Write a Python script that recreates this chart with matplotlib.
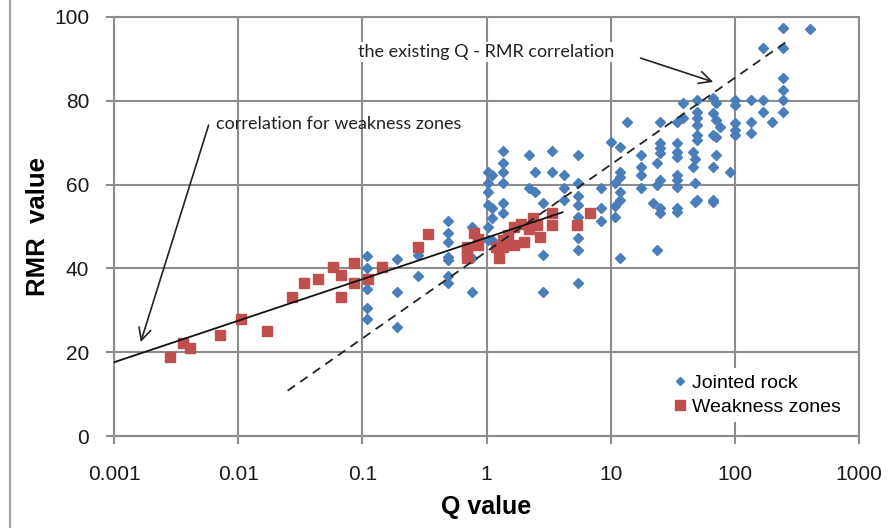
import matplotlib
matplotlib.use("Agg")
import matplotlib.pyplot as plt
from matplotlib.lines import Line2D

# Jointed rock (blue diamonds): Q value, RMR value
joint_q = [0.11, 0.11, 0.11, 0.11, 0.11, 0.11,
           0.19, 0.19, 0.19,
           0.28, 0.28,
           0.49, 0.49, 0.49, 0.49, 0.49, 0.49, 0.49,
           0.77, 0.77, 0.77,
           1.02, 1.02, 1.02, 1.02, 1.02, 1.02,
           1.1, 1.1, 1.1, 1.1,
           1.36, 1.36, 1.36, 1.36, 1.36, 1.36,
           2.18, 2.18, 2.48, 2.48,
           2.83, 2.83, 2.83,
           3.4, 3.4,
           4.17, 4.17, 4.17,
           5.46, 5.46, 5.46, 5.46, 5.46, 5.46, 5.46, 5.46,
           8.3, 8.3, 8.3,
           10.0,
           10.9, 10.9, 10.9,
           11.9, 11.9, 11.9, 11.9, 11.9, 11.9,
           13.6,
           17.4, 17.4, 17.4, 17.4,
           22.0,
           23.8, 23.8, 23.8,
           25.0, 25.0, 25.0, 25.0, 25.0, 25.0, 25.0,
           34.5, 34.5, 34.5, 34.5, 34.5, 34.5, 34.5, 34.5, 34.5,
           37.9, 37.9,
           46.4, 46.4,
           48.0, 48.0, 48.0,
           50.0, 50.0, 50.0, 50.0, 50.0, 50.0, 50.0,
           67.0, 67.0, 67.0, 67.0, 67.0, 67.0,
           71.0, 71.0, 71.0, 71.0,
           76.5,
           92.0,
           101.0, 101.0, 101.0, 101.0, 101.0,
           134.0, 134.0, 134.0,
           170.0, 170.0, 170.0,
           200.0,
           245.0, 245.0, 245.0, 245.0, 245.0, 245.0,
           406.0]
joint_rmr = [43, 40, 37, 35, 30.5, 28,
             42.3, 34.4, 26,
             43.2, 38.3,
             51.3, 48.4, 46.3, 42.7, 42, 38.3, 36.5,
             49.9, 42.5, 34.4,
             63, 60.4, 58.2, 55.1, 49.9, 46.8,
             62.3, 54.4, 52, 46.8,
             68, 65.2, 63, 60.4, 55.6, 53.3,
             67, 59.2, 63, 58.2,
             55.5, 43.2, 34.4,
             68, 63,
             62.3, 59.2, 56.3,
             67, 60.4, 57.3, 55.1, 52.3, 47.3, 44.4, 36.5,
             59.2, 54.4, 51.3,
             70.2,
             60.4, 55, 52.3,
             69, 63, 61.8, 58.2, 56.3, 42.5,
             75,
             67, 64.2, 62.3, 59.2,
             55.6,
             65.2, 60, 44.4,
             75, 70, 68.7, 67.5, 61, 54.4, 53.2,
             75, 70, 67.8, 66.6, 62.3, 61, 59.4, 54.4, 53.5,
             79.5, 75.9,
             67.8, 64.2,
             60.4, 55.8, 66,
             80.2, 77.3, 76, 74.2, 71.8, 70.6, 56.3,
             80.7, 77, 71.8, 64.2, 55.8, 56.3,
             79.5, 75.4, 71.4, 67,
             73.8,
             63,
             80.2, 79, 74.7, 73, 71.8,
             80.2, 75, 72.3,
             92.6, 80.2, 77.3,
             75,
             97.4, 92.6, 85.4, 82.6, 80.2, 77.3,
             97.1]

# Weakness zones (red squares)
weak_q = [0.0028, 0.0036, 0.0041, 0.0071, 0.0105, 0.017,
          0.027, 0.034, 0.044, 0.058, 0.067, 0.067, 0.085, 0.085,
          0.112, 0.145, 0.28, 0.335,
          0.70, 0.70, 0.70, 0.79, 0.85, 0.85,
          1.2, 1.25, 1.37, 1.37, 1.5, 1.65, 1.65, 1.9, 2.0, 2.2,
          2.39, 2.57, 2.72, 3.4, 3.4, 5.4, 6.8]
weak_rmr = [18.9, 22.2, 21, 24.1, 27.9, 25,
            33.2, 36.5, 37.5, 40.3, 38.4, 33.2, 41.3, 36.5,
            37.5, 40.3, 45.1, 48.2,
            43.7, 45.1, 42.5, 48.4, 45.6, 47,
            45, 42.5, 46.8, 45.1, 48, 49.9, 45.6, 50.5, 46.3, 49.5,
            52, 50.4, 47.5, 53.2, 50.4, 50.4, 53.2]

# correlation lines (end points)
weak_line_q = [0.001, 4.1]
weak_line_rmr = [17.6, 53.4]
exist_line_q = [0.025, 255]
exist_line_rmr = [10.8, 93.9]

x_ticks = [0.001, 0.01, 0.1, 1, 10, 100, 1000]
x_labels = ["0.001", "0.01", "0.1", "1", "10", "100", "1000"]
y_ticks = [0, 20, 40, 60, 80, 100]

grid_col = "#8c8c8c"
blue = "#4a7ebb"
red = "#c0504d"

plt.rcParams['font.family'] = ['Liberation Sans', 'DejaVu Sans']

fig = plt.figure(figsize=(8.88, 5.28), dpi=100)
ax = fig.add_axes([114 / 888, 1 - 436 / 528, 745 / 888, 419 / 528])

ax.plot(joint_q, joint_rmr, linestyle="none", marker="D", ms=5.4,
        color=blue, mec=blue, zorder=3)
ax.plot(weak_q, weak_rmr, linestyle="none", marker="s", ms=7.3,
        color=red, mec=red, zorder=4)

ax.plot(weak_line_q, weak_line_rmr, color="#111111", lw=1.3, zorder=5)
ax.plot(exist_line_q, exist_line_rmr, color="#222222", lw=1.3,
        linestyle=(0, (5, 3.5)), zorder=5)

ax.set_xscale("log")
ax.set_xlim(0.001, 1000)
ax.set_ylim(0, 100)
ax.set_xticks(x_ticks)
ax.set_xticklabels(x_labels)
ax.minorticks_off()
ax.set_yticks(y_ticks)

ax.grid(True, color=grid_col, lw=1.5, zorder=0)
ax.set_axisbelow(True)
for s in ax.spines.values():
    s.set_color(grid_col)
    s.set_linewidth(1.5)
ax.tick_params(axis="both", colors=grid_col, width=1.5, length=6,
               labelcolor="#1a1a1a", labelsize=15)
ax.tick_params(axis="y", pad=12)
ax.tick_params(axis="x", pad=15)

ax.set_xlabel("Q value", fontsize=18, fontweight="bold", labelpad=8)
ax.set_ylabel("RMR  value", fontsize=18.5, fontweight="bold", labelpad=3)

ann_font = dict(family=["Lato", "DejaVu Sans"], fontsize=13, color="#222222")
arrow = dict(arrowstyle="->", color="#222222", lw=1.2,
             shrinkA=0, shrinkB=0, mutation_scale=22)

ax.text(0.0066, 74.5, "correlation for weakness zones", va="center",
        ha="left", **ann_font)
ax.annotate("", xy=(0.00164, 22.4), xytext=(0.00578, 74.2), arrowprops=arrow)

ax.text(0.093, 91.6, "the existing Q - RMR correlation", va="center",
        ha="left", bbox=dict(boxstyle="square,pad=0.1", fc="white", ec="none"),
        **ann_font)
ax.annotate("", xy=(67, 84.5), xytext=(17.4, 90.2), arrowprops=arrow)

handles = [Line2D([], [], linestyle="none", marker="D", ms=4.2, color=blue),
           Line2D([], [], linestyle="none", marker="s", ms=6.5, color=red)]
leg = ax.legend(handles, ["Jointed rock", "Weakness zones"], loc="lower right",
                bbox_to_anchor=(0.996, 0.01), frameon=True, fancybox=False,
                edgecolor="none", facecolor="white", framealpha=1,
                fontsize=14, handlelength=0.6, handletextpad=0.3,
                labelspacing=0.35, borderpad=0.3)

fig.add_artist(Line2D([9.5 / 888, 9.5 / 888], [0, 1], color="#a0a0a0", lw=1.5,
                      transform=fig.transFigure))

fig.savefig("out.png", dpi=100)
